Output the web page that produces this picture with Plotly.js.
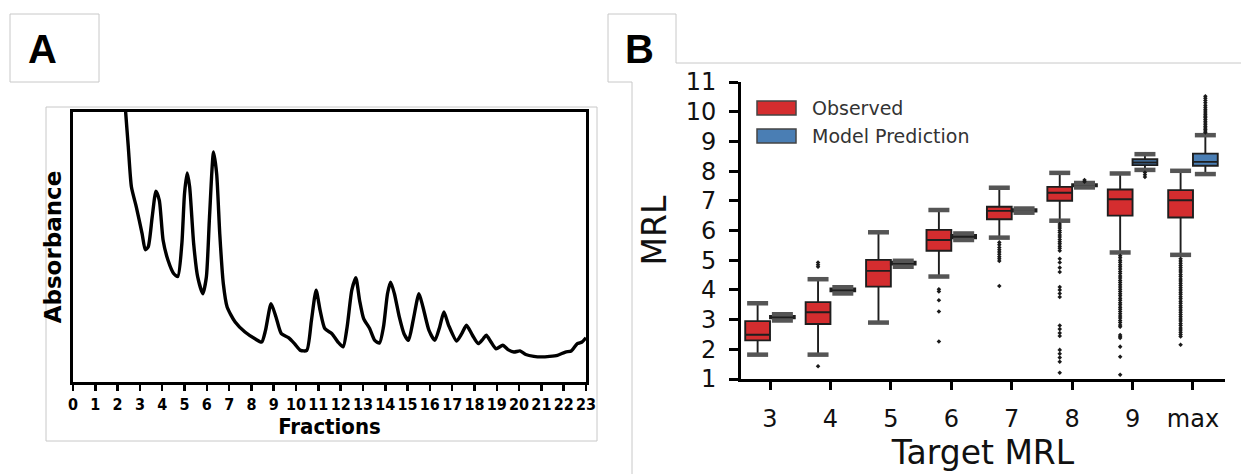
<!DOCTYPE html>
<html>
<head>
<meta charset="utf-8">
<script src="https://cdn.plot.ly/plotly-3.0.1.min.js"></script>
<style>html,body{margin:0;padding:0;background:#fff;}#chart{width:1241px;height:474px;}</style>
</head>
<body>
<div id="chart"></div>
<script>
// ---------- Panel A: absorbance profile ----------
const fracX = [2.30, 2.36, 2.48, 2.62, 2.84, 3.10, 3.24, 3.37, 3.55, 3.72, 3.87, 4.04, 4.26, 4.52, 4.70, 4.88, 5.00, 5.12, 5.23, 5.41, 5.59, 5.82, 5.98, 6.12, 6.30, 6.44, 6.58, 6.74, 6.91, 7.27, 7.71, 8.16, 8.46, 8.63, 8.88, 9.10, 9.34, 9.66, 9.93, 10.20, 10.48, 10.69, 10.90, 11.08, 11.29, 11.61, 11.88, 12.11, 12.29, 12.50, 12.68, 12.85, 13.03, 13.30, 13.53, 13.74, 13.92, 14.10, 14.24, 14.41, 14.63, 14.84, 15.04, 15.25, 15.51, 15.69, 15.96, 16.22, 16.44, 16.63, 16.84, 17.20, 17.43, 17.64, 17.91, 18.17, 18.39, 18.53, 18.74, 18.97, 19.27, 19.50, 19.77, 20.04, 20.30, 20.66, 21.01, 21.37, 21.72, 22.08, 22.34, 22.61, 22.82, 23.00];
const absorbY = [106, 100, 87, 72.2, 64.8, 54.9, 49.0, 50.0, 61.1, 70.7, 67.3, 52.5, 45.1, 40.1, 39.1, 51.2, 69.8, 77.4, 72.2, 51.2, 38.9, 32.7, 38.9, 61.1, 85.2, 77.2, 54.9, 36.4, 27.8, 22.2, 18.5, 16.0, 14.8, 19.1, 29.0, 24.1, 17.9, 16.4, 14.2, 11.7, 11.7, 22.8, 34.0, 26.5, 19.8, 17.9, 14.8, 13.0, 20.4, 34.0, 38.6, 30.2, 23.5, 19.8, 15.4, 14.4, 20.4, 32.7, 37.0, 32.7, 24.1, 17.9, 15.4, 22.8, 32.7, 27.8, 19.1, 15.4, 20.4, 25.9, 21.0, 15.2, 17.9, 21.0, 17.3, 14.2, 16.0, 17.3, 14.8, 12.3, 13.6, 12.0, 11.1, 11.5, 10.2, 9.5, 9.3, 9.5, 9.9, 11.1, 11.5, 14.2, 14.8, 16.4];
const fractionTicks = ['0','1','2','3','4','5','6','7','8','9','10','11','12','13','14','15','16','17','18','19','20','21','22','23'];

// ---------- Panel B: MRL box plots ----------
const targetLabels = ['3','4','5','6','7','8','9','max'];
const obsQ1   = [2.30, 2.85, 4.11, 5.32, 6.38, 7.00, 6.50, 6.44];
const obsMed  = [2.49, 3.25, 4.64, 5.68, 6.66, 7.27, 7.05, 7.02];
const obsQ3   = [2.95, 3.59, 5.01, 6.02, 6.80, 7.47, 7.38, 7.36];
const obsLow  = [1.82, 1.82, 2.90, 4.45, 5.76, 6.33, 5.26, 5.18];
const obsHigh = [3.55, 4.36, 5.94, 6.69, 7.44, 7.94, 7.92, 8.01];
const predQ1   = [3.04, 3.95, 4.85, 5.74, 6.64, 7.49, 8.20, 8.18];
const predMed  = [3.08, 4.00, 4.90, 5.79, 6.69, 7.52, 8.29, 8.31];
const predQ3   = [3.12, 4.05, 4.95, 5.85, 6.72, 7.56, 8.40, 8.59];
const predLow  = [2.97, 3.88, 4.78, 5.68, 6.60, 7.45, 8.04, 7.90];
const predHigh = [3.18, 4.09, 4.98, 5.90, 6.74, 7.60, 8.57, 9.21];
const obsOutliers = [
  [],
  [1.43, 4.78, 4.85, 4.92],
  [],
  [4.02, 3.95, 3.65, 3.27, 2.26],
  [5.60, 5.52, 5.43, 5.35, 5.28, 5.20, 5.12, 5.05, 4.97, 4.13],
  [6.22, 6.15, 6.08, 6.00, 5.93, 5.85, 5.78, 5.70, 5.62, 5.55, 5.47, 5.40, 5.32, 5.05, 4.92, 4.75, 4.60, 4.10, 4.00, 3.88, 3.76, 2.80, 2.68, 2.55, 2.45, 1.98, 1.85, 1.72, 1.58, 1.21],
  [5.15, 5.08, 5.00, 4.93, 4.85, 4.78, 4.70, 4.62, 4.55, 4.47, 4.40, 4.32, 4.25, 4.17, 4.10, 4.02, 3.95, 3.87, 3.80, 3.72, 3.65, 3.57, 3.50, 3.42, 3.35, 3.27, 3.20, 3.12, 3.05, 2.97, 2.90, 2.82, 2.76, 2.48, 2.42, 2.38, 2.09, 1.75, 1.14],
  [5.05, 4.97, 4.90, 4.82, 4.75, 4.67, 4.60, 4.52, 4.45, 4.37, 4.30, 4.22, 4.15, 4.07, 4.00, 3.92, 3.85, 3.77, 3.70, 3.62, 3.55, 3.47, 3.40, 3.32, 3.25, 3.17, 3.10, 3.02, 2.95, 2.87, 2.80, 2.72, 2.65, 2.57, 2.50, 2.43, 2.15]
];
const predOutliers = [
  [], [], [], [], [],
  [7.64, 7.70],
  [7.95, 7.88, 7.80],
  [10.52, 10.45, 10.38, 10.30, 10.22, 10.15, 10.08, 10.02, 9.96, 9.90, 9.85, 9.80, 9.74, 9.68, 9.62, 9.56, 9.50, 9.45, 9.40, 9.35, 9.30]
];

// ---------- styling / layout helpers ----------
const W = 1241, H = 474;
const px = v => v / W;
const py = v => 1 - v / H;
const RED = '#d42d2f', BLUE = '#4a7eb4';
const BOX_W = 0.41, OFF = 0.205;
const idx = targetLabels.map((_, i) => i);
const obsX = idx.map(i => i - OFF);
const predX = idx.map(i => i + OFF);

function boxTrace(name, xs, q1, med, q3, lo, hi, color) {
  return {
    type: 'box', name: name, x: xs, q1: q1, median: med, q3: q3,
    lowerfence: lo, upperfence: hi, width: BOX_W, whiskerwidth: 0,
    fillcolor: color, line: {color: '#1e1e1e', width: 1.9},
    boxpoints: false, xaxis: 'x2', yaxis: 'y2', showlegend: false, hoverinfo: 'y'
  };
}
function capTrace(xs, lo, hi) {
  return {
    type: 'scatter', mode: 'markers', xaxis: 'x2', yaxis: 'y2', showlegend: false,
    x: xs.concat(xs), y: lo.concat(hi), hoverinfo: 'skip',
    marker: {symbol: 'line-ew', size: 15, line: {color: '#555', width: 4.5}}
  };
}
function outlierTrace(xs, lists) {
  const ox = [], oy = [];
  lists.forEach((l, i) => l.forEach(v => { ox.push(xs[i]); oy.push(v); }));
  return {
    type: 'scatter', mode: 'markers', xaxis: 'x2', yaxis: 'y2', showlegend: false,
    x: ox, y: oy, hoverinfo: 'y',
    marker: {symbol: 'diamond', size: 3.5, color: '#1a1a1a'}
  };
}

const traces = [
  {type: 'scatter', mode: 'lines', x: fracX, y: absorbY, xaxis: 'x', yaxis: 'y',
   line: {color: '#000', width: 3.4, shape: 'spline', smoothing: 0.6}, showlegend: false, hoverinfo: 'x'},
  boxTrace('Observed', obsX, obsQ1, obsMed, obsQ3, obsLow, obsHigh, RED),
  boxTrace('Model Prediction', predX, predQ1, predMed, predQ3, predLow, predHigh, BLUE),
  capTrace(obsX, obsLow, obsHigh),
  capTrace(predX, predLow, predHigh),
  outlierTrace(obsX, obsOutliers),
  outlierTrace(predX, predOutliers)
];

const boldCond = {family: '"DejaVu Sans Condensed", "DejaVu Sans", sans-serif', weight: 'bold', color: '#000'};
const dv = '"DejaVu Sans", sans-serif';

const layout = {
  width: W, height: H, margin: {l: 0, r: 0, t: 0, b: 0},
  paper_bgcolor: '#fff', plot_bgcolor: 'rgba(0,0,0,0)', showlegend: false,
  xaxis: {
    domain: [px(73), px(586)], anchor: 'y', range: [0, 23], autorange: false,
    tickmode: 'array', tickvals: fractionTicks.map(Number), ticktext: fractionTicks,
    ticks: 'outside', ticklen: 6, tickwidth: 2.5, tickcolor: '#000',
    showline: true, linewidth: 3, linecolor: '#000', mirror: true,
    showgrid: false, zeroline: false, automargin: false,
    tickfont: Object.assign({size: 16}, boldCond),
    title: {text: 'Fractions', font: Object.assign({size: 22}, boldCond), standoff: 5}
  },
  yaxis: {
    domain: [py(382), py(112)], anchor: 'x', range: [0, 100], autorange: false,
    showticklabels: false, ticks: '', showline: true, linewidth: 3, linecolor: '#000', mirror: true,
    showgrid: false, zeroline: false, automargin: false,
    title: {text: 'Absorbance', font: {family: dv, weight: 'bold', size: 23, color: '#000'}, standoff: 2}
  },
  xaxis2: {
    domain: [px(741), px(1225)], anchor: 'y2', range: [-0.48, 7.53], autorange: false,
    tickmode: 'array', tickvals: idx, ticktext: targetLabels,
    ticks: 'outside', ticklen: 8, tickwidth: 3, tickcolor: '#000', ticklabelstandoff: 8,
    showline: true, linewidth: 3, linecolor: '#000', showgrid: false, zeroline: false, automargin: false,
    tickfont: {family: dv, size: 24, color: '#111'},
    title: {text: 'Target MRL', font: {family: dv, size: 33, color: '#111'}, standoff: 10}
  },
  yaxis2: {
    domain: [py(379), py(82)], anchor: 'x2', range: [1, 11], autorange: false,
    tickmode: 'array', tickvals: [1,2,3,4,5,6,7,8,9,10,11],
    ticks: 'outside', ticklen: 9, tickwidth: 3, tickcolor: '#000', ticklabelstandoff: 8,
    showline: true, linewidth: 3, linecolor: '#000', showgrid: false, zeroline: false, automargin: false,
    tickfont: {family: dv, size: 24, color: '#111'},
    title: {text: 'MRL', font: {family: dv, size: 33, color: '#111'}, standoff: 10}
  },
  shapes: [
    {type: 'rect', xref: 'paper', yref: 'paper', x0: px(10), x1: px(99), y0: py(82), y1: py(14), line: {color: '#c8c8c8', width: 1}},
    {type: 'rect', xref: 'paper', yref: 'paper', x0: px(46), x1: px(597), y0: py(441), y1: py(107), line: {color: '#c8c8c8', width: 1}},
    {type: 'path', xref: 'paper', yref: 'paper',
     path: `M ${px(608)} ${py(82)} L ${px(608)} ${py(14)} L ${px(676)} ${py(14)} L ${px(676)} ${py(63)} L ${px(1241)} ${py(63)}`,
     line: {color: '#c8c8c8', width: 1}},
    {type: 'path', xref: 'paper', yref: 'paper',
     path: `M ${px(608)} ${py(82)} L ${px(632)} ${py(82)} L ${px(632)} ${py(474)}`,
     line: {color: '#c8c8c8', width: 1}},
    {type: 'rect', xref: 'paper', yref: 'paper', x0: px(757), x1: px(796), y0: py(115), y1: py(101), fillcolor: RED, line: {color: '#444', width: 1.5}},
    {type: 'rect', xref: 'paper', yref: 'paper', x0: px(757), x1: px(796), y0: py(143), y1: py(129), fillcolor: BLUE, line: {color: '#444', width: 1.5}}
  ],
  annotations: [
    {xref: 'paper', yref: 'paper', x: px(42), y: py(49), text: 'A', showarrow: false, xanchor: 'center', yanchor: 'middle',
     font: {family: '"Liberation Sans", Arial, sans-serif', weight: 'bold', size: 40, color: '#000'}},
    {xref: 'paper', yref: 'paper', x: px(640), y: py(49), text: 'B', showarrow: false, xanchor: 'center', yanchor: 'middle',
     font: {family: '"Liberation Sans", Arial, sans-serif', weight: 'bold', size: 40, color: '#000'}},
    {xref: 'paper', yref: 'paper', x: px(810), y: py(108), text: 'Observed', showarrow: false, xanchor: 'left', yanchor: 'middle',
     font: {family: dv, size: 19, color: '#333'}},
    {xref: 'paper', yref: 'paper', x: px(810), y: py(136), text: 'Model Prediction', showarrow: false, xanchor: 'left', yanchor: 'middle',
     font: {family: dv, size: 19, color: '#333'}}
  ]
};

Plotly.newPlot('chart', traces, layout, {staticPlot: true, displayModeBar: false});
</script>
</body>
</html>
